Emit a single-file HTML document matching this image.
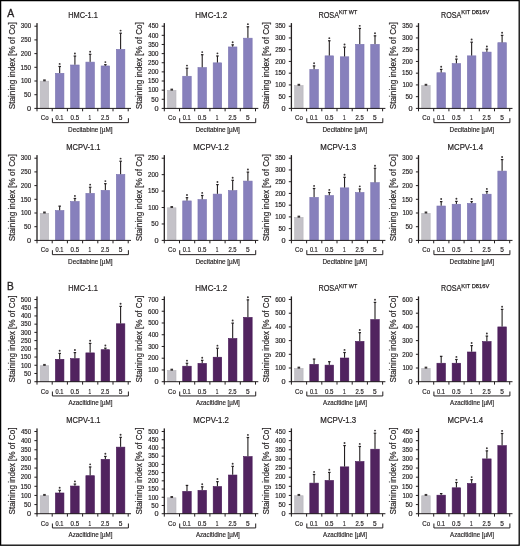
<!DOCTYPE html>
<html><head><meta charset="utf-8"><style>
html,body{margin:0;padding:0;background:#fff;overflow:hidden;width:520px;height:546px;}
svg{display:block;will-change:transform;}
text{font-family:"Liberation Sans",sans-serif;fill:#231f20;stroke:#231f20;stroke-width:0.18px;}
.tk{font-size:6.5px;}
.yl{font-size:8.6px;}
.xl{font-size:6.6px;}
.tr{font-size:7.0px;}
.ti{font-size:8.6px;stroke-width:0.2px;}
.su{font-size:6.0px;stroke-width:0.25px;}
.pl{font-size:11.6px;stroke-width:0.35px;}
</style></head><body>
<svg width="520" height="546" viewBox="0 0 520 546">
<rect x="0" y="0" width="520" height="546" fill="#fff"/>
<rect x="40.2" y="81.16" width="8.5" height="27.24" fill="#c4c2c8" stroke="#b8b6bc" stroke-width="0.6"/>
<rect x="43.15" y="79.36" width="2.6" height="2" fill="#3a3637"/>
<rect x="55.43" y="73.35" width="8.5" height="35.05" fill="#8780bc" stroke="#7a72b0" stroke-width="0.6"/>
<rect x="59.13" y="66.48" width="1.1" height="6.58" fill="#231f20"/>
<rect x="58.43" y="65.88" width="2.5" height="1.2" fill="#231f20"/>
<circle cx="59.68" cy="63.88" r="0.95" fill="#3a3637"/>
<rect x="70.66" y="65" width="8.5" height="43.4" fill="#8780bc" stroke="#7a72b0" stroke-width="0.6"/>
<rect x="74.36" y="56.07" width="1.1" height="8.63" fill="#231f20"/>
<rect x="73.66" y="55.47" width="2.5" height="1.2" fill="#231f20"/>
<circle cx="74.91" cy="53.47" r="0.95" fill="#3a3637"/>
<rect x="85.89" y="62.12" width="8.5" height="46.28" fill="#8780bc" stroke="#7a72b0" stroke-width="0.6"/>
<rect x="89.59" y="54.29" width="1.1" height="7.53" fill="#231f20"/>
<rect x="88.89" y="53.69" width="2.5" height="1.2" fill="#231f20"/>
<circle cx="90.14" cy="51.69" r="0.95" fill="#3a3637"/>
<rect x="101.12" y="65.96" width="8.5" height="42.44" fill="#8780bc" stroke="#7a72b0" stroke-width="0.6"/>
<rect x="104.82" y="64.7" width="1.1" height="0.96" fill="#231f20"/>
<rect x="104.12" y="64.1" width="2.5" height="1.2" fill="#231f20"/>
<circle cx="105.37" cy="62.1" r="0.95" fill="#3a3637"/>
<rect x="116.35" y="49.38" width="8.5" height="59.02" fill="#8780bc" stroke="#7a72b0" stroke-width="0.6"/>
<rect x="120.05" y="33.19" width="1.1" height="15.89" fill="#231f20"/>
<rect x="119.35" y="32.59" width="2.5" height="1.2" fill="#231f20"/>
<circle cx="120.6" cy="30.59" r="0.95" fill="#3a3637"/>
<rect x="36.35" y="23.1" width="1.3" height="85.8" fill="#231f20"/>
<rect x="37" y="107.9" width="94" height="1" fill="#231f20"/>
<rect x="36.5" y="108.4" width="1" height="2.9" fill="#231f20"/>
<rect x="51.7" y="108.4" width="1" height="2.9" fill="#231f20"/>
<rect x="66.9" y="108.4" width="1" height="2.9" fill="#231f20"/>
<rect x="82.1" y="108.4" width="1" height="2.9" fill="#231f20"/>
<rect x="97.3" y="108.4" width="1" height="2.9" fill="#231f20"/>
<rect x="112.5" y="108.4" width="1" height="2.9" fill="#231f20"/>
<rect x="127.7" y="108.4" width="1" height="2.9" fill="#231f20"/>
<rect x="34.4" y="107.9" width="2.6" height="1" fill="#231f20"/>
<text x="27.11" y="110.67" class="tk" textLength="4.07" lengthAdjust="spacingAndGlyphs">0</text>
<rect x="34.4" y="94.2" width="2.6" height="1" fill="#231f20"/>
<text x="24.04" y="96.97" class="tk" textLength="7.11" lengthAdjust="spacingAndGlyphs">50</text>
<rect x="34.4" y="80.5" width="2.6" height="1" fill="#231f20"/>
<text x="20.94" y="83.27" class="tk" textLength="10.21" lengthAdjust="spacingAndGlyphs">100</text>
<rect x="34.4" y="66.8" width="2.6" height="1" fill="#231f20"/>
<text x="20.62" y="69.57" class="tk" textLength="10.53" lengthAdjust="spacingAndGlyphs">150</text>
<rect x="34.4" y="53.1" width="2.6" height="1" fill="#231f20"/>
<text x="20.79" y="55.87" class="tk" textLength="10.36" lengthAdjust="spacingAndGlyphs">200</text>
<rect x="34.4" y="39.4" width="2.6" height="1" fill="#231f20"/>
<text x="20.79" y="42.17" class="tk" textLength="10.36" lengthAdjust="spacingAndGlyphs">250</text>
<rect x="34.4" y="25.7" width="2.6" height="1" fill="#231f20"/>
<text x="20.87" y="28.47" class="tk" textLength="10.28" lengthAdjust="spacingAndGlyphs">300</text>
<text class="yl" transform="translate(14.8,109.18) rotate(-90)" textLength="87.05" lengthAdjust="spacingAndGlyphs">Staining index [% of Co]</text>
<text x="40.69" y="120.4" class="xl" textLength="7.87" lengthAdjust="spacingAndGlyphs">Co</text>
<text x="55.48" y="120.4" class="xl" textLength="7.9" lengthAdjust="spacingAndGlyphs">0.1</text>
<text x="70.56" y="120.4" class="xl" textLength="8.5" lengthAdjust="spacingAndGlyphs">0.5</text>
<text x="88.49" y="120.4" class="xl" textLength="2.65" lengthAdjust="spacingAndGlyphs">1</text>
<text x="101.11" y="120.4" class="xl" textLength="8.14" lengthAdjust="spacingAndGlyphs">2.5</text>
<text x="118.64" y="120.4" class="xl" textLength="3.64" lengthAdjust="spacingAndGlyphs">5</text>
<path d="M52.4 118.2V122.65H128.4V118.2" fill="none" stroke="#231f20" stroke-width="1"/>
<text x="68.08" y="131.6" class="tr" textLength="44.48" lengthAdjust="spacingAndGlyphs">Decitabine [µM]</text>
<text x="68.19" y="17.7" class="ti" textLength="29.68" lengthAdjust="spacingAndGlyphs">HMC-1.1</text>
<rect x="167.5" y="90.43" width="8.5" height="17.97" fill="#c4c2c8" stroke="#b8b6bc" stroke-width="0.6"/>
<rect x="170.45" y="88.63" width="2.6" height="2" fill="#3a3637"/>
<rect x="182.73" y="76.26" width="8.5" height="32.14" fill="#8780bc" stroke="#7a72b0" stroke-width="0.6"/>
<rect x="186.43" y="68.21" width="1.1" height="7.75" fill="#231f20"/>
<rect x="185.73" y="67.61" width="2.5" height="1.2" fill="#231f20"/>
<circle cx="186.98" cy="65.61" r="0.95" fill="#3a3637"/>
<rect x="197.96" y="67.6" width="8.5" height="40.8" fill="#8780bc" stroke="#7a72b0" stroke-width="0.6"/>
<rect x="201.66" y="54.7" width="1.1" height="12.6" fill="#231f20"/>
<rect x="200.96" y="54.1" width="2.5" height="1.2" fill="#231f20"/>
<circle cx="202.21" cy="52.1" r="0.95" fill="#3a3637"/>
<rect x="213.19" y="62.85" width="8.5" height="45.55" fill="#8780bc" stroke="#7a72b0" stroke-width="0.6"/>
<rect x="216.89" y="55.97" width="1.1" height="6.58" fill="#231f20"/>
<rect x="216.19" y="55.37" width="2.5" height="1.2" fill="#231f20"/>
<circle cx="217.44" cy="53.37" r="0.95" fill="#3a3637"/>
<rect x="228.42" y="46.96" width="8.5" height="61.44" fill="#8780bc" stroke="#7a72b0" stroke-width="0.6"/>
<rect x="232.12" y="44.83" width="1.1" height="1.83" fill="#231f20"/>
<rect x="231.42" y="44.23" width="2.5" height="1.2" fill="#231f20"/>
<circle cx="232.67" cy="42.23" r="0.95" fill="#3a3637"/>
<rect x="243.65" y="38.19" width="8.5" height="70.21" fill="#8780bc" stroke="#7a72b0" stroke-width="0.6"/>
<rect x="247.35" y="26.75" width="1.1" height="11.14" fill="#231f20"/>
<rect x="246.65" y="26.15" width="2.5" height="1.2" fill="#231f20"/>
<circle cx="247.9" cy="24.15" r="0.95" fill="#3a3637"/>
<rect x="163.65" y="23.1" width="1.3" height="85.8" fill="#231f20"/>
<rect x="164.3" y="107.9" width="94" height="1" fill="#231f20"/>
<rect x="163.8" y="108.4" width="1" height="2.9" fill="#231f20"/>
<rect x="179" y="108.4" width="1" height="2.9" fill="#231f20"/>
<rect x="194.2" y="108.4" width="1" height="2.9" fill="#231f20"/>
<rect x="209.4" y="108.4" width="1" height="2.9" fill="#231f20"/>
<rect x="224.6" y="108.4" width="1" height="2.9" fill="#231f20"/>
<rect x="239.8" y="108.4" width="1" height="2.9" fill="#231f20"/>
<rect x="255" y="108.4" width="1" height="2.9" fill="#231f20"/>
<rect x="161.7" y="107.9" width="2.6" height="1" fill="#231f20"/>
<text x="154.41" y="110.67" class="tk" textLength="4.07" lengthAdjust="spacingAndGlyphs">0</text>
<rect x="161.7" y="98.77" width="2.6" height="1" fill="#231f20"/>
<text x="151.34" y="101.54" class="tk" textLength="7.11" lengthAdjust="spacingAndGlyphs">50</text>
<rect x="161.7" y="89.63" width="2.6" height="1" fill="#231f20"/>
<text x="148.24" y="92.4" class="tk" textLength="10.21" lengthAdjust="spacingAndGlyphs">100</text>
<rect x="161.7" y="80.5" width="2.6" height="1" fill="#231f20"/>
<text x="147.92" y="83.27" class="tk" textLength="10.53" lengthAdjust="spacingAndGlyphs">150</text>
<rect x="161.7" y="71.37" width="2.6" height="1" fill="#231f20"/>
<text x="148.09" y="74.14" class="tk" textLength="10.36" lengthAdjust="spacingAndGlyphs">200</text>
<rect x="161.7" y="62.23" width="2.6" height="1" fill="#231f20"/>
<text x="148.09" y="65" class="tk" textLength="10.36" lengthAdjust="spacingAndGlyphs">250</text>
<rect x="161.7" y="53.1" width="2.6" height="1" fill="#231f20"/>
<text x="148.17" y="55.87" class="tk" textLength="10.28" lengthAdjust="spacingAndGlyphs">300</text>
<rect x="161.7" y="43.97" width="2.6" height="1" fill="#231f20"/>
<text x="148.17" y="46.74" class="tk" textLength="10.28" lengthAdjust="spacingAndGlyphs">350</text>
<rect x="161.7" y="34.83" width="2.6" height="1" fill="#231f20"/>
<text x="148.26" y="37.6" class="tk" textLength="10.18" lengthAdjust="spacingAndGlyphs">400</text>
<rect x="161.7" y="25.7" width="2.6" height="1" fill="#231f20"/>
<text x="148.26" y="28.47" class="tk" textLength="10.18" lengthAdjust="spacingAndGlyphs">450</text>
<text class="yl" transform="translate(142.1,109.18) rotate(-90)" textLength="87.05" lengthAdjust="spacingAndGlyphs">Staining index [% of Co]</text>
<text x="167.99" y="120.4" class="xl" textLength="7.87" lengthAdjust="spacingAndGlyphs">Co</text>
<text x="182.78" y="120.4" class="xl" textLength="7.9" lengthAdjust="spacingAndGlyphs">0.1</text>
<text x="197.86" y="120.4" class="xl" textLength="8.5" lengthAdjust="spacingAndGlyphs">0.5</text>
<text x="215.79" y="120.4" class="xl" textLength="2.65" lengthAdjust="spacingAndGlyphs">1</text>
<text x="228.41" y="120.4" class="xl" textLength="8.14" lengthAdjust="spacingAndGlyphs">2.5</text>
<text x="245.94" y="120.4" class="xl" textLength="3.64" lengthAdjust="spacingAndGlyphs">5</text>
<path d="M179.7 118.2V122.65H255.7V118.2" fill="none" stroke="#231f20" stroke-width="1"/>
<text x="195.38" y="131.6" class="tr" textLength="44.48" lengthAdjust="spacingAndGlyphs">Decitabine [µM]</text>
<text x="195.35" y="17.7" class="ti" textLength="31.75" lengthAdjust="spacingAndGlyphs">HMC-1.2</text>
<rect x="294.6" y="85.61" width="8.5" height="22.79" fill="#c4c2c8" stroke="#b8b6bc" stroke-width="0.6"/>
<rect x="297.55" y="83.81" width="2.6" height="2" fill="#3a3637"/>
<rect x="309.83" y="69.48" width="8.5" height="38.92" fill="#8780bc" stroke="#7a72b0" stroke-width="0.6"/>
<rect x="313.53" y="65.89" width="1.1" height="3.29" fill="#231f20"/>
<rect x="312.83" y="65.29" width="2.5" height="1.2" fill="#231f20"/>
<circle cx="314.08" cy="63.29" r="0.95" fill="#3a3637"/>
<rect x="325.06" y="55.86" width="8.5" height="52.54" fill="#8780bc" stroke="#7a72b0" stroke-width="0.6"/>
<rect x="328.76" y="40.76" width="1.1" height="14.8" fill="#231f20"/>
<rect x="328.06" y="40.16" width="2.5" height="1.2" fill="#231f20"/>
<circle cx="329.31" cy="38.16" r="0.95" fill="#3a3637"/>
<rect x="340.29" y="56.8" width="8.5" height="51.6" fill="#8780bc" stroke="#7a72b0" stroke-width="0.6"/>
<rect x="343.99" y="47.1" width="1.1" height="9.39" fill="#231f20"/>
<rect x="343.29" y="46.5" width="2.5" height="1.2" fill="#231f20"/>
<circle cx="344.54" cy="44.5" r="0.95" fill="#3a3637"/>
<rect x="355.52" y="44.35" width="8.5" height="64.05" fill="#8780bc" stroke="#7a72b0" stroke-width="0.6"/>
<rect x="359.22" y="28.43" width="1.1" height="15.62" fill="#231f20"/>
<rect x="358.52" y="27.83" width="2.5" height="1.2" fill="#231f20"/>
<circle cx="359.77" cy="25.83" r="0.95" fill="#3a3637"/>
<rect x="370.75" y="44.35" width="8.5" height="64.05" fill="#8780bc" stroke="#7a72b0" stroke-width="0.6"/>
<rect x="374.45" y="35.83" width="1.1" height="8.22" fill="#231f20"/>
<rect x="373.75" y="35.23" width="2.5" height="1.2" fill="#231f20"/>
<circle cx="375" cy="33.23" r="0.95" fill="#3a3637"/>
<rect x="290.75" y="23.1" width="1.3" height="85.8" fill="#231f20"/>
<rect x="291.4" y="107.9" width="94" height="1" fill="#231f20"/>
<rect x="290.9" y="108.4" width="1" height="2.9" fill="#231f20"/>
<rect x="306.1" y="108.4" width="1" height="2.9" fill="#231f20"/>
<rect x="321.3" y="108.4" width="1" height="2.9" fill="#231f20"/>
<rect x="336.5" y="108.4" width="1" height="2.9" fill="#231f20"/>
<rect x="351.7" y="108.4" width="1" height="2.9" fill="#231f20"/>
<rect x="366.9" y="108.4" width="1" height="2.9" fill="#231f20"/>
<rect x="382.1" y="108.4" width="1" height="2.9" fill="#231f20"/>
<rect x="288.8" y="107.9" width="2.6" height="1" fill="#231f20"/>
<text x="281.51" y="110.67" class="tk" textLength="4.07" lengthAdjust="spacingAndGlyphs">0</text>
<rect x="288.8" y="96.16" width="2.6" height="1" fill="#231f20"/>
<text x="278.44" y="98.93" class="tk" textLength="7.11" lengthAdjust="spacingAndGlyphs">50</text>
<rect x="288.8" y="84.41" width="2.6" height="1" fill="#231f20"/>
<text x="275.34" y="87.18" class="tk" textLength="10.21" lengthAdjust="spacingAndGlyphs">100</text>
<rect x="288.8" y="72.67" width="2.6" height="1" fill="#231f20"/>
<text x="275.02" y="75.44" class="tk" textLength="10.53" lengthAdjust="spacingAndGlyphs">150</text>
<rect x="288.8" y="60.93" width="2.6" height="1" fill="#231f20"/>
<text x="275.19" y="63.7" class="tk" textLength="10.36" lengthAdjust="spacingAndGlyphs">200</text>
<rect x="288.8" y="49.19" width="2.6" height="1" fill="#231f20"/>
<text x="275.19" y="51.95" class="tk" textLength="10.36" lengthAdjust="spacingAndGlyphs">250</text>
<rect x="288.8" y="37.44" width="2.6" height="1" fill="#231f20"/>
<text x="275.27" y="40.21" class="tk" textLength="10.28" lengthAdjust="spacingAndGlyphs">300</text>
<rect x="288.8" y="25.7" width="2.6" height="1" fill="#231f20"/>
<text x="275.27" y="28.47" class="tk" textLength="10.28" lengthAdjust="spacingAndGlyphs">350</text>
<text class="yl" transform="translate(269.2,109.18) rotate(-90)" textLength="87.05" lengthAdjust="spacingAndGlyphs">Staining index [% of Co]</text>
<text x="295.09" y="120.4" class="xl" textLength="7.87" lengthAdjust="spacingAndGlyphs">Co</text>
<text x="309.88" y="120.4" class="xl" textLength="7.9" lengthAdjust="spacingAndGlyphs">0.1</text>
<text x="324.96" y="120.4" class="xl" textLength="8.5" lengthAdjust="spacingAndGlyphs">0.5</text>
<text x="342.89" y="120.4" class="xl" textLength="2.65" lengthAdjust="spacingAndGlyphs">1</text>
<text x="355.51" y="120.4" class="xl" textLength="8.14" lengthAdjust="spacingAndGlyphs">2.5</text>
<text x="373.04" y="120.4" class="xl" textLength="3.64" lengthAdjust="spacingAndGlyphs">5</text>
<path d="M306.8 118.2V122.65H382.8V118.2" fill="none" stroke="#231f20" stroke-width="1"/>
<text x="322.48" y="131.6" class="tr" textLength="44.48" lengthAdjust="spacingAndGlyphs">Decitabine [µM]</text>
<text x="318.4" y="17.7" class="ti" textLength="20.71" lengthAdjust="spacingAndGlyphs">ROSA</text>
<text x="338.96" y="14.2" class="su" textLength="18.27" lengthAdjust="spacingAndGlyphs">KIT WT</text>
<rect x="421.7" y="85.61" width="8.5" height="22.79" fill="#c4c2c8" stroke="#b8b6bc" stroke-width="0.6"/>
<rect x="424.65" y="83.81" width="2.6" height="2" fill="#3a3637"/>
<rect x="436.93" y="72.77" width="8.5" height="35.63" fill="#8780bc" stroke="#7a72b0" stroke-width="0.6"/>
<rect x="440.63" y="69.41" width="1.1" height="3.05" fill="#231f20"/>
<rect x="439.93" y="68.81" width="2.5" height="1.2" fill="#231f20"/>
<circle cx="441.18" cy="66.81" r="0.95" fill="#3a3637"/>
<rect x="452.16" y="63.61" width="8.5" height="44.79" fill="#8780bc" stroke="#7a72b0" stroke-width="0.6"/>
<rect x="455.86" y="59.08" width="1.1" height="4.23" fill="#231f20"/>
<rect x="455.16" y="58.48" width="2.5" height="1.2" fill="#231f20"/>
<circle cx="456.41" cy="56.48" r="0.95" fill="#3a3637"/>
<rect x="467.39" y="55.86" width="8.5" height="52.54" fill="#8780bc" stroke="#7a72b0" stroke-width="0.6"/>
<rect x="471.09" y="42.17" width="1.1" height="13.39" fill="#231f20"/>
<rect x="470.39" y="41.57" width="2.5" height="1.2" fill="#231f20"/>
<circle cx="471.64" cy="39.57" r="0.95" fill="#3a3637"/>
<rect x="482.62" y="52.1" width="8.5" height="56.3" fill="#8780bc" stroke="#7a72b0" stroke-width="0.6"/>
<rect x="486.32" y="49.1" width="1.1" height="2.7" fill="#231f20"/>
<rect x="485.62" y="48.5" width="2.5" height="1.2" fill="#231f20"/>
<circle cx="486.87" cy="46.5" r="0.95" fill="#3a3637"/>
<rect x="497.85" y="42.71" width="8.5" height="65.69" fill="#8780bc" stroke="#7a72b0" stroke-width="0.6"/>
<rect x="501.55" y="35.36" width="1.1" height="7.05" fill="#231f20"/>
<rect x="500.85" y="34.76" width="2.5" height="1.2" fill="#231f20"/>
<circle cx="502.1" cy="32.76" r="0.95" fill="#3a3637"/>
<rect x="417.85" y="23.1" width="1.3" height="85.8" fill="#231f20"/>
<rect x="418.5" y="107.9" width="94" height="1" fill="#231f20"/>
<rect x="418" y="108.4" width="1" height="2.9" fill="#231f20"/>
<rect x="433.2" y="108.4" width="1" height="2.9" fill="#231f20"/>
<rect x="448.4" y="108.4" width="1" height="2.9" fill="#231f20"/>
<rect x="463.6" y="108.4" width="1" height="2.9" fill="#231f20"/>
<rect x="478.8" y="108.4" width="1" height="2.9" fill="#231f20"/>
<rect x="494" y="108.4" width="1" height="2.9" fill="#231f20"/>
<rect x="509.2" y="108.4" width="1" height="2.9" fill="#231f20"/>
<rect x="415.9" y="107.9" width="2.6" height="1" fill="#231f20"/>
<text x="408.61" y="110.67" class="tk" textLength="4.07" lengthAdjust="spacingAndGlyphs">0</text>
<rect x="415.9" y="96.16" width="2.6" height="1" fill="#231f20"/>
<text x="405.54" y="98.93" class="tk" textLength="7.11" lengthAdjust="spacingAndGlyphs">50</text>
<rect x="415.9" y="84.41" width="2.6" height="1" fill="#231f20"/>
<text x="402.44" y="87.18" class="tk" textLength="10.21" lengthAdjust="spacingAndGlyphs">100</text>
<rect x="415.9" y="72.67" width="2.6" height="1" fill="#231f20"/>
<text x="402.12" y="75.44" class="tk" textLength="10.53" lengthAdjust="spacingAndGlyphs">150</text>
<rect x="415.9" y="60.93" width="2.6" height="1" fill="#231f20"/>
<text x="402.29" y="63.7" class="tk" textLength="10.36" lengthAdjust="spacingAndGlyphs">200</text>
<rect x="415.9" y="49.19" width="2.6" height="1" fill="#231f20"/>
<text x="402.29" y="51.95" class="tk" textLength="10.36" lengthAdjust="spacingAndGlyphs">250</text>
<rect x="415.9" y="37.44" width="2.6" height="1" fill="#231f20"/>
<text x="402.37" y="40.21" class="tk" textLength="10.28" lengthAdjust="spacingAndGlyphs">300</text>
<rect x="415.9" y="25.7" width="2.6" height="1" fill="#231f20"/>
<text x="402.37" y="28.47" class="tk" textLength="10.28" lengthAdjust="spacingAndGlyphs">350</text>
<text class="yl" transform="translate(396.3,109.18) rotate(-90)" textLength="87.05" lengthAdjust="spacingAndGlyphs">Staining index [% of Co]</text>
<text x="422.19" y="120.4" class="xl" textLength="7.87" lengthAdjust="spacingAndGlyphs">Co</text>
<text x="436.98" y="120.4" class="xl" textLength="7.9" lengthAdjust="spacingAndGlyphs">0.1</text>
<text x="452.06" y="120.4" class="xl" textLength="8.5" lengthAdjust="spacingAndGlyphs">0.5</text>
<text x="469.99" y="120.4" class="xl" textLength="2.65" lengthAdjust="spacingAndGlyphs">1</text>
<text x="482.61" y="120.4" class="xl" textLength="8.14" lengthAdjust="spacingAndGlyphs">2.5</text>
<text x="500.14" y="120.4" class="xl" textLength="3.64" lengthAdjust="spacingAndGlyphs">5</text>
<path d="M433.9 118.2V122.65H509.9V118.2" fill="none" stroke="#231f20" stroke-width="1"/>
<text x="449.58" y="131.6" class="tr" textLength="44.48" lengthAdjust="spacingAndGlyphs">Decitabine [µM]</text>
<text x="441.12" y="17.7" class="ti" textLength="20.2" lengthAdjust="spacingAndGlyphs">ROSA</text>
<text x="461.33" y="14.2" class="su" textLength="27.9" lengthAdjust="spacingAndGlyphs">KIT D816V</text>
<rect x="40.2" y="213.3" width="8.5" height="27.1" fill="#c4c2c8" stroke="#b8b6bc" stroke-width="0.6"/>
<rect x="43.15" y="211.5" width="2.6" height="2" fill="#3a3637"/>
<rect x="55.43" y="210.56" width="8.5" height="29.84" fill="#8780bc" stroke="#7a72b0" stroke-width="0.6"/>
<rect x="59.13" y="206.15" width="1.1" height="4.11" fill="#231f20"/>
<rect x="58.43" y="205.55" width="2.5" height="1.2" fill="#231f20"/>
<rect x="70.66" y="201.52" width="8.5" height="38.88" fill="#8780bc" stroke="#7a72b0" stroke-width="0.6"/>
<rect x="74.36" y="198.48" width="1.1" height="2.74" fill="#231f20"/>
<rect x="73.66" y="197.88" width="2.5" height="1.2" fill="#231f20"/>
<circle cx="74.91" cy="195.88" r="0.95" fill="#3a3637"/>
<rect x="85.89" y="193.41" width="8.5" height="46.99" fill="#8780bc" stroke="#7a72b0" stroke-width="0.6"/>
<rect x="89.59" y="187.24" width="1.1" height="5.86" fill="#231f20"/>
<rect x="88.89" y="186.64" width="2.5" height="1.2" fill="#231f20"/>
<circle cx="90.14" cy="184.64" r="0.95" fill="#3a3637"/>
<rect x="101.12" y="190.39" width="8.5" height="50.01" fill="#8780bc" stroke="#7a72b0" stroke-width="0.6"/>
<rect x="104.82" y="183.68" width="1.1" height="6.41" fill="#231f20"/>
<rect x="104.12" y="183.08" width="2.5" height="1.2" fill="#231f20"/>
<circle cx="105.37" cy="181.08" r="0.95" fill="#3a3637"/>
<rect x="116.35" y="174.5" width="8.5" height="65.9" fill="#8780bc" stroke="#7a72b0" stroke-width="0.6"/>
<rect x="120.05" y="161.21" width="1.1" height="12.99" fill="#231f20"/>
<rect x="119.35" y="160.61" width="2.5" height="1.2" fill="#231f20"/>
<circle cx="120.6" cy="158.61" r="0.95" fill="#3a3637"/>
<rect x="36.35" y="155.1" width="1.3" height="85.8" fill="#231f20"/>
<rect x="37" y="239.9" width="94" height="1" fill="#231f20"/>
<rect x="36.5" y="240.4" width="1" height="2.9" fill="#231f20"/>
<rect x="51.7" y="240.4" width="1" height="2.9" fill="#231f20"/>
<rect x="66.9" y="240.4" width="1" height="2.9" fill="#231f20"/>
<rect x="82.1" y="240.4" width="1" height="2.9" fill="#231f20"/>
<rect x="97.3" y="240.4" width="1" height="2.9" fill="#231f20"/>
<rect x="112.5" y="240.4" width="1" height="2.9" fill="#231f20"/>
<rect x="127.7" y="240.4" width="1" height="2.9" fill="#231f20"/>
<rect x="34.4" y="239.9" width="2.6" height="1" fill="#231f20"/>
<text x="27.11" y="242.67" class="tk" textLength="4.07" lengthAdjust="spacingAndGlyphs">0</text>
<rect x="34.4" y="226.2" width="2.6" height="1" fill="#231f20"/>
<text x="24.04" y="228.97" class="tk" textLength="7.11" lengthAdjust="spacingAndGlyphs">50</text>
<rect x="34.4" y="212.5" width="2.6" height="1" fill="#231f20"/>
<text x="20.94" y="215.27" class="tk" textLength="10.21" lengthAdjust="spacingAndGlyphs">100</text>
<rect x="34.4" y="198.8" width="2.6" height="1" fill="#231f20"/>
<text x="20.62" y="201.57" class="tk" textLength="10.53" lengthAdjust="spacingAndGlyphs">150</text>
<rect x="34.4" y="185.1" width="2.6" height="1" fill="#231f20"/>
<text x="20.79" y="187.87" class="tk" textLength="10.36" lengthAdjust="spacingAndGlyphs">200</text>
<rect x="34.4" y="171.4" width="2.6" height="1" fill="#231f20"/>
<text x="20.79" y="174.17" class="tk" textLength="10.36" lengthAdjust="spacingAndGlyphs">250</text>
<rect x="34.4" y="157.7" width="2.6" height="1" fill="#231f20"/>
<text x="20.87" y="160.47" class="tk" textLength="10.28" lengthAdjust="spacingAndGlyphs">300</text>
<text class="yl" transform="translate(14.8,241.18) rotate(-90)" textLength="87.05" lengthAdjust="spacingAndGlyphs">Staining index [% of Co]</text>
<text x="40.69" y="252.4" class="xl" textLength="7.87" lengthAdjust="spacingAndGlyphs">Co</text>
<text x="55.48" y="252.4" class="xl" textLength="7.9" lengthAdjust="spacingAndGlyphs">0.1</text>
<text x="70.56" y="252.4" class="xl" textLength="8.5" lengthAdjust="spacingAndGlyphs">0.5</text>
<text x="88.49" y="252.4" class="xl" textLength="2.65" lengthAdjust="spacingAndGlyphs">1</text>
<text x="101.11" y="252.4" class="xl" textLength="8.14" lengthAdjust="spacingAndGlyphs">2.5</text>
<text x="118.64" y="252.4" class="xl" textLength="3.64" lengthAdjust="spacingAndGlyphs">5</text>
<path d="M52.4 250.2V254.65H128.4V250.2" fill="none" stroke="#231f20" stroke-width="1"/>
<text x="68.08" y="263.6" class="tr" textLength="44.48" lengthAdjust="spacingAndGlyphs">Decitabine [µM]</text>
<text x="66.28" y="150" class="ti" textLength="34.29" lengthAdjust="spacingAndGlyphs">MCPV-1.1</text>
<rect x="167.5" y="207.82" width="8.5" height="32.58" fill="#c4c2c8" stroke="#b8b6bc" stroke-width="0.6"/>
<rect x="170.45" y="206.02" width="2.6" height="2" fill="#3a3637"/>
<rect x="182.73" y="200.92" width="8.5" height="39.48" fill="#8780bc" stroke="#7a72b0" stroke-width="0.6"/>
<rect x="186.43" y="197.66" width="1.1" height="2.96" fill="#231f20"/>
<rect x="185.73" y="197.06" width="2.5" height="1.2" fill="#231f20"/>
<circle cx="186.98" cy="195.06" r="0.95" fill="#3a3637"/>
<rect x="197.96" y="199.6" width="8.5" height="40.8" fill="#8780bc" stroke="#7a72b0" stroke-width="0.6"/>
<rect x="201.66" y="195.49" width="1.1" height="3.81" fill="#231f20"/>
<rect x="200.96" y="194.89" width="2.5" height="1.2" fill="#231f20"/>
<circle cx="202.21" cy="192.89" r="0.95" fill="#3a3637"/>
<rect x="213.19" y="194.11" width="8.5" height="46.29" fill="#8780bc" stroke="#7a72b0" stroke-width="0.6"/>
<rect x="216.89" y="184.6" width="1.1" height="9.21" fill="#231f20"/>
<rect x="216.19" y="184" width="2.5" height="1.2" fill="#231f20"/>
<circle cx="217.44" cy="182" r="0.95" fill="#3a3637"/>
<rect x="228.42" y="190.59" width="8.5" height="49.81" fill="#8780bc" stroke="#7a72b0" stroke-width="0.6"/>
<rect x="232.12" y="180.3" width="1.1" height="10" fill="#231f20"/>
<rect x="231.42" y="179.7" width="2.5" height="1.2" fill="#231f20"/>
<circle cx="232.67" cy="177.7" r="0.95" fill="#3a3637"/>
<rect x="243.65" y="181.09" width="8.5" height="59.31" fill="#8780bc" stroke="#7a72b0" stroke-width="0.6"/>
<rect x="247.35" y="172.11" width="1.1" height="8.68" fill="#231f20"/>
<rect x="246.65" y="171.51" width="2.5" height="1.2" fill="#231f20"/>
<circle cx="247.9" cy="169.51" r="0.95" fill="#3a3637"/>
<rect x="163.65" y="155.1" width="1.3" height="85.8" fill="#231f20"/>
<rect x="164.3" y="239.9" width="94" height="1" fill="#231f20"/>
<rect x="163.8" y="240.4" width="1" height="2.9" fill="#231f20"/>
<rect x="179" y="240.4" width="1" height="2.9" fill="#231f20"/>
<rect x="194.2" y="240.4" width="1" height="2.9" fill="#231f20"/>
<rect x="209.4" y="240.4" width="1" height="2.9" fill="#231f20"/>
<rect x="224.6" y="240.4" width="1" height="2.9" fill="#231f20"/>
<rect x="239.8" y="240.4" width="1" height="2.9" fill="#231f20"/>
<rect x="255" y="240.4" width="1" height="2.9" fill="#231f20"/>
<rect x="161.7" y="239.9" width="2.6" height="1" fill="#231f20"/>
<text x="154.41" y="242.67" class="tk" textLength="4.07" lengthAdjust="spacingAndGlyphs">0</text>
<rect x="161.7" y="223.46" width="2.6" height="1" fill="#231f20"/>
<text x="151.34" y="226.23" class="tk" textLength="7.11" lengthAdjust="spacingAndGlyphs">50</text>
<rect x="161.7" y="207.02" width="2.6" height="1" fill="#231f20"/>
<text x="148.24" y="209.79" class="tk" textLength="10.21" lengthAdjust="spacingAndGlyphs">100</text>
<rect x="161.7" y="190.58" width="2.6" height="1" fill="#231f20"/>
<text x="147.92" y="193.35" class="tk" textLength="10.53" lengthAdjust="spacingAndGlyphs">150</text>
<rect x="161.7" y="174.14" width="2.6" height="1" fill="#231f20"/>
<text x="148.09" y="176.91" class="tk" textLength="10.36" lengthAdjust="spacingAndGlyphs">200</text>
<rect x="161.7" y="157.7" width="2.6" height="1" fill="#231f20"/>
<text x="148.09" y="160.47" class="tk" textLength="10.36" lengthAdjust="spacingAndGlyphs">250</text>
<text class="yl" transform="translate(142.1,241.18) rotate(-90)" textLength="87.05" lengthAdjust="spacingAndGlyphs">Staining index [% of Co]</text>
<text x="167.99" y="252.4" class="xl" textLength="7.87" lengthAdjust="spacingAndGlyphs">Co</text>
<text x="182.78" y="252.4" class="xl" textLength="7.9" lengthAdjust="spacingAndGlyphs">0.1</text>
<text x="197.86" y="252.4" class="xl" textLength="8.5" lengthAdjust="spacingAndGlyphs">0.5</text>
<text x="215.79" y="252.4" class="xl" textLength="2.65" lengthAdjust="spacingAndGlyphs">1</text>
<text x="228.41" y="252.4" class="xl" textLength="8.14" lengthAdjust="spacingAndGlyphs">2.5</text>
<text x="245.94" y="252.4" class="xl" textLength="3.64" lengthAdjust="spacingAndGlyphs">5</text>
<path d="M179.7 250.2V254.65H255.7V250.2" fill="none" stroke="#231f20" stroke-width="1"/>
<text x="195.38" y="263.6" class="tr" textLength="44.48" lengthAdjust="spacingAndGlyphs">Decitabine [µM]</text>
<text x="193.36" y="150" class="ti" textLength="35.53" lengthAdjust="spacingAndGlyphs">MCPV-1.2</text>
<rect x="294.6" y="217.45" width="8.5" height="22.95" fill="#c4c2c8" stroke="#b8b6bc" stroke-width="0.6"/>
<rect x="297.55" y="215.65" width="2.6" height="2" fill="#3a3637"/>
<rect x="309.83" y="197.42" width="8.5" height="42.98" fill="#8780bc" stroke="#7a72b0" stroke-width="0.6"/>
<rect x="313.53" y="188.5" width="1.1" height="8.62" fill="#231f20"/>
<rect x="312.83" y="187.9" width="2.5" height="1.2" fill="#231f20"/>
<circle cx="314.08" cy="185.9" r="0.95" fill="#3a3637"/>
<rect x="325.06" y="195.61" width="8.5" height="44.79" fill="#8780bc" stroke="#7a72b0" stroke-width="0.6"/>
<rect x="328.76" y="192.49" width="1.1" height="2.82" fill="#231f20"/>
<rect x="328.06" y="191.89" width="2.5" height="1.2" fill="#231f20"/>
<circle cx="329.31" cy="189.89" r="0.95" fill="#3a3637"/>
<rect x="340.29" y="187.86" width="8.5" height="52.54" fill="#8780bc" stroke="#7a72b0" stroke-width="0.6"/>
<rect x="343.99" y="177.32" width="1.1" height="10.24" fill="#231f20"/>
<rect x="343.29" y="176.72" width="2.5" height="1.2" fill="#231f20"/>
<circle cx="344.54" cy="174.72" r="0.95" fill="#3a3637"/>
<rect x="355.52" y="192.55" width="8.5" height="47.85" fill="#8780bc" stroke="#7a72b0" stroke-width="0.6"/>
<rect x="359.22" y="188.97" width="1.1" height="3.29" fill="#231f20"/>
<rect x="358.52" y="188.37" width="2.5" height="1.2" fill="#231f20"/>
<circle cx="359.77" cy="186.37" r="0.95" fill="#3a3637"/>
<rect x="370.75" y="182.69" width="8.5" height="57.71" fill="#8780bc" stroke="#7a72b0" stroke-width="0.6"/>
<rect x="374.45" y="168.3" width="1.1" height="14.09" fill="#231f20"/>
<rect x="373.75" y="167.7" width="2.5" height="1.2" fill="#231f20"/>
<circle cx="375" cy="165.7" r="0.95" fill="#3a3637"/>
<rect x="290.75" y="155.1" width="1.3" height="85.8" fill="#231f20"/>
<rect x="291.4" y="239.9" width="94" height="1" fill="#231f20"/>
<rect x="290.9" y="240.4" width="1" height="2.9" fill="#231f20"/>
<rect x="306.1" y="240.4" width="1" height="2.9" fill="#231f20"/>
<rect x="321.3" y="240.4" width="1" height="2.9" fill="#231f20"/>
<rect x="336.5" y="240.4" width="1" height="2.9" fill="#231f20"/>
<rect x="351.7" y="240.4" width="1" height="2.9" fill="#231f20"/>
<rect x="366.9" y="240.4" width="1" height="2.9" fill="#231f20"/>
<rect x="382.1" y="240.4" width="1" height="2.9" fill="#231f20"/>
<rect x="288.8" y="239.9" width="2.6" height="1" fill="#231f20"/>
<text x="281.51" y="242.67" class="tk" textLength="4.07" lengthAdjust="spacingAndGlyphs">0</text>
<rect x="288.8" y="228.16" width="2.6" height="1" fill="#231f20"/>
<text x="278.44" y="230.93" class="tk" textLength="7.11" lengthAdjust="spacingAndGlyphs">50</text>
<rect x="288.8" y="216.41" width="2.6" height="1" fill="#231f20"/>
<text x="275.34" y="219.18" class="tk" textLength="10.21" lengthAdjust="spacingAndGlyphs">100</text>
<rect x="288.8" y="204.67" width="2.6" height="1" fill="#231f20"/>
<text x="275.02" y="207.44" class="tk" textLength="10.53" lengthAdjust="spacingAndGlyphs">150</text>
<rect x="288.8" y="192.93" width="2.6" height="1" fill="#231f20"/>
<text x="275.19" y="195.7" class="tk" textLength="10.36" lengthAdjust="spacingAndGlyphs">200</text>
<rect x="288.8" y="181.19" width="2.6" height="1" fill="#231f20"/>
<text x="275.19" y="183.95" class="tk" textLength="10.36" lengthAdjust="spacingAndGlyphs">250</text>
<rect x="288.8" y="169.44" width="2.6" height="1" fill="#231f20"/>
<text x="275.27" y="172.21" class="tk" textLength="10.28" lengthAdjust="spacingAndGlyphs">300</text>
<rect x="288.8" y="157.7" width="2.6" height="1" fill="#231f20"/>
<text x="275.27" y="160.47" class="tk" textLength="10.28" lengthAdjust="spacingAndGlyphs">350</text>
<text class="yl" transform="translate(269.2,241.18) rotate(-90)" textLength="87.05" lengthAdjust="spacingAndGlyphs">Staining index [% of Co]</text>
<text x="295.09" y="252.4" class="xl" textLength="7.87" lengthAdjust="spacingAndGlyphs">Co</text>
<text x="309.88" y="252.4" class="xl" textLength="7.9" lengthAdjust="spacingAndGlyphs">0.1</text>
<text x="324.96" y="252.4" class="xl" textLength="8.5" lengthAdjust="spacingAndGlyphs">0.5</text>
<text x="342.89" y="252.4" class="xl" textLength="2.65" lengthAdjust="spacingAndGlyphs">1</text>
<text x="355.51" y="252.4" class="xl" textLength="8.14" lengthAdjust="spacingAndGlyphs">2.5</text>
<text x="373.04" y="252.4" class="xl" textLength="3.64" lengthAdjust="spacingAndGlyphs">5</text>
<path d="M306.8 250.2V254.65H382.8V250.2" fill="none" stroke="#231f20" stroke-width="1"/>
<text x="322.48" y="263.6" class="tr" textLength="44.48" lengthAdjust="spacingAndGlyphs">Decitabine [µM]</text>
<text x="320.35" y="150" class="ti" textLength="35.89" lengthAdjust="spacingAndGlyphs">MCPV-1.3</text>
<rect x="421.7" y="213.3" width="8.5" height="27.1" fill="#c4c2c8" stroke="#b8b6bc" stroke-width="0.6"/>
<rect x="424.65" y="211.5" width="2.6" height="2" fill="#3a3637"/>
<rect x="436.93" y="206.01" width="8.5" height="34.39" fill="#8780bc" stroke="#7a72b0" stroke-width="0.6"/>
<rect x="440.63" y="201.63" width="1.1" height="4.08" fill="#231f20"/>
<rect x="439.93" y="201.03" width="2.5" height="1.2" fill="#231f20"/>
<circle cx="441.18" cy="199.03" r="0.95" fill="#3a3637"/>
<rect x="452.16" y="204.26" width="8.5" height="36.14" fill="#8780bc" stroke="#7a72b0" stroke-width="0.6"/>
<rect x="455.86" y="201.41" width="1.1" height="2.55" fill="#231f20"/>
<rect x="455.16" y="200.81" width="2.5" height="1.2" fill="#231f20"/>
<circle cx="456.41" cy="198.81" r="0.95" fill="#3a3637"/>
<rect x="467.39" y="203.44" width="8.5" height="36.96" fill="#8780bc" stroke="#7a72b0" stroke-width="0.6"/>
<rect x="471.09" y="201.63" width="1.1" height="1.51" fill="#231f20"/>
<rect x="470.39" y="201.03" width="2.5" height="1.2" fill="#231f20"/>
<circle cx="471.64" cy="199.03" r="0.95" fill="#3a3637"/>
<rect x="482.62" y="194.2" width="8.5" height="46.2" fill="#8780bc" stroke="#7a72b0" stroke-width="0.6"/>
<rect x="486.32" y="191.49" width="1.1" height="2.41" fill="#231f20"/>
<rect x="485.62" y="190.89" width="2.5" height="1.2" fill="#231f20"/>
<circle cx="486.87" cy="188.89" r="0.95" fill="#3a3637"/>
<rect x="497.85" y="171.1" width="8.5" height="69.3" fill="#8780bc" stroke="#7a72b0" stroke-width="0.6"/>
<rect x="501.55" y="159.57" width="1.1" height="11.23" fill="#231f20"/>
<rect x="500.85" y="158.97" width="2.5" height="1.2" fill="#231f20"/>
<circle cx="502.1" cy="156.97" r="0.95" fill="#3a3637"/>
<rect x="417.85" y="155.1" width="1.3" height="85.8" fill="#231f20"/>
<rect x="418.5" y="239.9" width="94" height="1" fill="#231f20"/>
<rect x="418" y="240.4" width="1" height="2.9" fill="#231f20"/>
<rect x="433.2" y="240.4" width="1" height="2.9" fill="#231f20"/>
<rect x="448.4" y="240.4" width="1" height="2.9" fill="#231f20"/>
<rect x="463.6" y="240.4" width="1" height="2.9" fill="#231f20"/>
<rect x="478.8" y="240.4" width="1" height="2.9" fill="#231f20"/>
<rect x="494" y="240.4" width="1" height="2.9" fill="#231f20"/>
<rect x="509.2" y="240.4" width="1" height="2.9" fill="#231f20"/>
<rect x="415.9" y="239.9" width="2.6" height="1" fill="#231f20"/>
<text x="408.61" y="242.67" class="tk" textLength="4.07" lengthAdjust="spacingAndGlyphs">0</text>
<rect x="415.9" y="226.2" width="2.6" height="1" fill="#231f20"/>
<text x="405.54" y="228.97" class="tk" textLength="7.11" lengthAdjust="spacingAndGlyphs">50</text>
<rect x="415.9" y="212.5" width="2.6" height="1" fill="#231f20"/>
<text x="402.44" y="215.27" class="tk" textLength="10.21" lengthAdjust="spacingAndGlyphs">100</text>
<rect x="415.9" y="198.8" width="2.6" height="1" fill="#231f20"/>
<text x="402.12" y="201.57" class="tk" textLength="10.53" lengthAdjust="spacingAndGlyphs">150</text>
<rect x="415.9" y="185.1" width="2.6" height="1" fill="#231f20"/>
<text x="402.29" y="187.87" class="tk" textLength="10.36" lengthAdjust="spacingAndGlyphs">200</text>
<rect x="415.9" y="171.4" width="2.6" height="1" fill="#231f20"/>
<text x="402.29" y="174.17" class="tk" textLength="10.36" lengthAdjust="spacingAndGlyphs">250</text>
<rect x="415.9" y="157.7" width="2.6" height="1" fill="#231f20"/>
<text x="402.37" y="160.47" class="tk" textLength="10.28" lengthAdjust="spacingAndGlyphs">300</text>
<text class="yl" transform="translate(396.3,241.18) rotate(-90)" textLength="87.05" lengthAdjust="spacingAndGlyphs">Staining index [% of Co]</text>
<text x="422.19" y="252.4" class="xl" textLength="7.87" lengthAdjust="spacingAndGlyphs">Co</text>
<text x="436.98" y="252.4" class="xl" textLength="7.9" lengthAdjust="spacingAndGlyphs">0.1</text>
<text x="452.06" y="252.4" class="xl" textLength="8.5" lengthAdjust="spacingAndGlyphs">0.5</text>
<text x="469.99" y="252.4" class="xl" textLength="2.65" lengthAdjust="spacingAndGlyphs">1</text>
<text x="482.61" y="252.4" class="xl" textLength="8.14" lengthAdjust="spacingAndGlyphs">2.5</text>
<text x="500.14" y="252.4" class="xl" textLength="3.64" lengthAdjust="spacingAndGlyphs">5</text>
<path d="M433.9 250.2V254.65H509.9V250.2" fill="none" stroke="#231f20" stroke-width="1"/>
<text x="449.58" y="263.6" class="tr" textLength="44.48" lengthAdjust="spacingAndGlyphs">Decitabine [µM]</text>
<text x="447.56" y="150" class="ti" textLength="35.47" lengthAdjust="spacingAndGlyphs">MCPV-1.4</text>
<rect x="40.2" y="365.72" width="8.5" height="15.98" fill="#c4c2c8" stroke="#b8b6bc" stroke-width="0.6"/>
<rect x="43.15" y="363.92" width="2.6" height="2" fill="#3a3637"/>
<rect x="55.43" y="359.31" width="8.5" height="22.39" fill="#51235f" stroke="#461856" stroke-width="0.6"/>
<rect x="59.13" y="353.42" width="1.1" height="5.59" fill="#231f20"/>
<rect x="58.43" y="352.82" width="2.5" height="1.2" fill="#231f20"/>
<circle cx="59.68" cy="350.82" r="0.95" fill="#3a3637"/>
<rect x="70.66" y="358.66" width="8.5" height="23.04" fill="#51235f" stroke="#461856" stroke-width="0.6"/>
<rect x="74.36" y="352.6" width="1.1" height="5.75" fill="#231f20"/>
<rect x="73.66" y="352" width="2.5" height="1.2" fill="#231f20"/>
<circle cx="74.91" cy="350" r="0.95" fill="#3a3637"/>
<rect x="85.89" y="352.9" width="8.5" height="28.8" fill="#51235f" stroke="#461856" stroke-width="0.6"/>
<rect x="89.59" y="343.39" width="1.1" height="9.21" fill="#231f20"/>
<rect x="88.89" y="342.79" width="2.5" height="1.2" fill="#231f20"/>
<circle cx="90.14" cy="340.79" r="0.95" fill="#3a3637"/>
<rect x="101.12" y="349.7" width="8.5" height="32" fill="#51235f" stroke="#461856" stroke-width="0.6"/>
<rect x="104.82" y="348.16" width="1.1" height="1.23" fill="#231f20"/>
<rect x="104.12" y="347.56" width="2.5" height="1.2" fill="#231f20"/>
<circle cx="105.37" cy="345.56" r="0.95" fill="#3a3637"/>
<rect x="116.35" y="323.8" width="8.5" height="57.9" fill="#51235f" stroke="#461856" stroke-width="0.6"/>
<rect x="120.05" y="306.4" width="1.1" height="17.1" fill="#231f20"/>
<rect x="119.35" y="305.8" width="2.5" height="1.2" fill="#231f20"/>
<circle cx="120.6" cy="303.8" r="0.95" fill="#3a3637"/>
<rect x="36.35" y="296.4" width="1.3" height="85.8" fill="#231f20"/>
<rect x="37" y="381.2" width="94" height="1" fill="#231f20"/>
<rect x="36.5" y="381.7" width="1" height="2.9" fill="#231f20"/>
<rect x="51.7" y="381.7" width="1" height="2.9" fill="#231f20"/>
<rect x="66.9" y="381.7" width="1" height="2.9" fill="#231f20"/>
<rect x="82.1" y="381.7" width="1" height="2.9" fill="#231f20"/>
<rect x="97.3" y="381.7" width="1" height="2.9" fill="#231f20"/>
<rect x="112.5" y="381.7" width="1" height="2.9" fill="#231f20"/>
<rect x="127.7" y="381.7" width="1" height="2.9" fill="#231f20"/>
<rect x="34.4" y="381.2" width="2.6" height="1" fill="#231f20"/>
<text x="27.11" y="383.97" class="tk" textLength="4.07" lengthAdjust="spacingAndGlyphs">0</text>
<rect x="34.4" y="372.98" width="2.6" height="1" fill="#231f20"/>
<text x="24.04" y="375.75" class="tk" textLength="7.11" lengthAdjust="spacingAndGlyphs">50</text>
<rect x="34.4" y="364.76" width="2.6" height="1" fill="#231f20"/>
<text x="20.94" y="367.53" class="tk" textLength="10.21" lengthAdjust="spacingAndGlyphs">100</text>
<rect x="34.4" y="356.54" width="2.6" height="1" fill="#231f20"/>
<text x="20.62" y="359.31" class="tk" textLength="10.53" lengthAdjust="spacingAndGlyphs">150</text>
<rect x="34.4" y="348.32" width="2.6" height="1" fill="#231f20"/>
<text x="20.79" y="351.09" class="tk" textLength="10.36" lengthAdjust="spacingAndGlyphs">200</text>
<rect x="34.4" y="340.1" width="2.6" height="1" fill="#231f20"/>
<text x="20.79" y="342.87" class="tk" textLength="10.36" lengthAdjust="spacingAndGlyphs">250</text>
<rect x="34.4" y="331.88" width="2.6" height="1" fill="#231f20"/>
<text x="20.87" y="334.65" class="tk" textLength="10.28" lengthAdjust="spacingAndGlyphs">300</text>
<rect x="34.4" y="323.66" width="2.6" height="1" fill="#231f20"/>
<text x="20.87" y="326.43" class="tk" textLength="10.28" lengthAdjust="spacingAndGlyphs">350</text>
<rect x="34.4" y="315.44" width="2.6" height="1" fill="#231f20"/>
<text x="20.96" y="318.21" class="tk" textLength="10.18" lengthAdjust="spacingAndGlyphs">400</text>
<rect x="34.4" y="307.22" width="2.6" height="1" fill="#231f20"/>
<text x="20.96" y="309.99" class="tk" textLength="10.18" lengthAdjust="spacingAndGlyphs">450</text>
<rect x="34.4" y="299" width="2.6" height="1" fill="#231f20"/>
<text x="20.85" y="301.77" class="tk" textLength="10.29" lengthAdjust="spacingAndGlyphs">500</text>
<text class="yl" transform="translate(14.8,382.48) rotate(-90)" textLength="87.05" lengthAdjust="spacingAndGlyphs">Staining index [% of Co]</text>
<text x="40.69" y="393.7" class="xl" textLength="7.87" lengthAdjust="spacingAndGlyphs">Co</text>
<text x="55.48" y="393.7" class="xl" textLength="7.9" lengthAdjust="spacingAndGlyphs">0.1</text>
<text x="70.56" y="393.7" class="xl" textLength="8.5" lengthAdjust="spacingAndGlyphs">0.5</text>
<text x="88.49" y="393.7" class="xl" textLength="2.65" lengthAdjust="spacingAndGlyphs">1</text>
<text x="101.11" y="393.7" class="xl" textLength="8.14" lengthAdjust="spacingAndGlyphs">2.5</text>
<text x="118.64" y="393.7" class="xl" textLength="3.64" lengthAdjust="spacingAndGlyphs">5</text>
<path d="M52.4 391.5V395.95H128.4V391.5" fill="none" stroke="#231f20" stroke-width="1"/>
<text x="68.59" y="404.9" class="tr" textLength="43.95" lengthAdjust="spacingAndGlyphs">Azacitidine [µM]</text>
<text x="68.19" y="291.1" class="ti" textLength="29.68" lengthAdjust="spacingAndGlyphs">HMC-1.1</text>
<rect x="167.5" y="370.49" width="8.5" height="11.21" fill="#c4c2c8" stroke="#b8b6bc" stroke-width="0.6"/>
<rect x="170.45" y="368.69" width="2.6" height="2" fill="#3a3637"/>
<rect x="182.73" y="366.21" width="8.5" height="15.49" fill="#51235f" stroke="#461856" stroke-width="0.6"/>
<rect x="186.43" y="363.26" width="1.1" height="2.64" fill="#231f20"/>
<rect x="185.73" y="362.66" width="2.5" height="1.2" fill="#231f20"/>
<circle cx="186.98" cy="360.66" r="0.95" fill="#3a3637"/>
<rect x="197.96" y="363.45" width="8.5" height="18.25" fill="#51235f" stroke="#461856" stroke-width="0.6"/>
<rect x="201.66" y="360.33" width="1.1" height="2.82" fill="#231f20"/>
<rect x="200.96" y="359.73" width="2.5" height="1.2" fill="#231f20"/>
<circle cx="202.21" cy="357.73" r="0.95" fill="#3a3637"/>
<rect x="213.19" y="357.22" width="8.5" height="24.48" fill="#51235f" stroke="#461856" stroke-width="0.6"/>
<rect x="216.89" y="348.23" width="1.1" height="8.69" fill="#231f20"/>
<rect x="216.19" y="347.63" width="2.5" height="1.2" fill="#231f20"/>
<circle cx="217.44" cy="345.63" r="0.95" fill="#3a3637"/>
<rect x="228.42" y="338.55" width="8.5" height="43.15" fill="#51235f" stroke="#461856" stroke-width="0.6"/>
<rect x="232.12" y="323.1" width="1.1" height="15.15" fill="#231f20"/>
<rect x="231.42" y="322.5" width="2.5" height="1.2" fill="#231f20"/>
<circle cx="232.67" cy="320.5" r="0.95" fill="#3a3637"/>
<rect x="243.65" y="317.41" width="8.5" height="64.29" fill="#51235f" stroke="#461856" stroke-width="0.6"/>
<rect x="247.35" y="299.85" width="1.1" height="17.26" fill="#231f20"/>
<rect x="246.65" y="299.25" width="2.5" height="1.2" fill="#231f20"/>
<circle cx="247.9" cy="297.25" r="0.95" fill="#3a3637"/>
<rect x="163.65" y="296.4" width="1.3" height="85.8" fill="#231f20"/>
<rect x="164.3" y="381.2" width="94" height="1" fill="#231f20"/>
<rect x="163.8" y="381.7" width="1" height="2.9" fill="#231f20"/>
<rect x="179" y="381.7" width="1" height="2.9" fill="#231f20"/>
<rect x="194.2" y="381.7" width="1" height="2.9" fill="#231f20"/>
<rect x="209.4" y="381.7" width="1" height="2.9" fill="#231f20"/>
<rect x="224.6" y="381.7" width="1" height="2.9" fill="#231f20"/>
<rect x="239.8" y="381.7" width="1" height="2.9" fill="#231f20"/>
<rect x="255" y="381.7" width="1" height="2.9" fill="#231f20"/>
<rect x="161.7" y="381.2" width="2.6" height="1" fill="#231f20"/>
<text x="154.41" y="383.97" class="tk" textLength="4.07" lengthAdjust="spacingAndGlyphs">0</text>
<rect x="161.7" y="369.46" width="2.6" height="1" fill="#231f20"/>
<text x="148.24" y="372.23" class="tk" textLength="10.21" lengthAdjust="spacingAndGlyphs">100</text>
<rect x="161.7" y="357.71" width="2.6" height="1" fill="#231f20"/>
<text x="148.09" y="360.48" class="tk" textLength="10.36" lengthAdjust="spacingAndGlyphs">200</text>
<rect x="161.7" y="345.97" width="2.6" height="1" fill="#231f20"/>
<text x="148.17" y="348.74" class="tk" textLength="10.28" lengthAdjust="spacingAndGlyphs">300</text>
<rect x="161.7" y="334.23" width="2.6" height="1" fill="#231f20"/>
<text x="148.26" y="337" class="tk" textLength="10.18" lengthAdjust="spacingAndGlyphs">400</text>
<rect x="161.7" y="322.49" width="2.6" height="1" fill="#231f20"/>
<text x="148.15" y="325.25" class="tk" textLength="10.29" lengthAdjust="spacingAndGlyphs">500</text>
<rect x="161.7" y="310.74" width="2.6" height="1" fill="#231f20"/>
<text x="148.08" y="313.51" class="tk" textLength="10.36" lengthAdjust="spacingAndGlyphs">600</text>
<rect x="161.7" y="299" width="2.6" height="1" fill="#231f20"/>
<text x="148.08" y="301.77" class="tk" textLength="10.36" lengthAdjust="spacingAndGlyphs">700</text>
<text class="yl" transform="translate(142.1,382.48) rotate(-90)" textLength="87.05" lengthAdjust="spacingAndGlyphs">Staining index [% of Co]</text>
<text x="167.99" y="393.7" class="xl" textLength="7.87" lengthAdjust="spacingAndGlyphs">Co</text>
<text x="182.78" y="393.7" class="xl" textLength="7.9" lengthAdjust="spacingAndGlyphs">0.1</text>
<text x="197.86" y="393.7" class="xl" textLength="8.5" lengthAdjust="spacingAndGlyphs">0.5</text>
<text x="215.79" y="393.7" class="xl" textLength="2.65" lengthAdjust="spacingAndGlyphs">1</text>
<text x="228.41" y="393.7" class="xl" textLength="8.14" lengthAdjust="spacingAndGlyphs">2.5</text>
<text x="245.94" y="393.7" class="xl" textLength="3.64" lengthAdjust="spacingAndGlyphs">5</text>
<path d="M179.7 391.5V395.95H255.7V391.5" fill="none" stroke="#231f20" stroke-width="1"/>
<text x="195.89" y="404.9" class="tr" textLength="43.95" lengthAdjust="spacingAndGlyphs">Azacitidine [µM]</text>
<text x="195.35" y="291.1" class="ti" textLength="31.75" lengthAdjust="spacingAndGlyphs">HMC-1.2</text>
<rect x="294.6" y="368.44" width="8.5" height="13.26" fill="#c4c2c8" stroke="#b8b6bc" stroke-width="0.6"/>
<rect x="297.55" y="366.64" width="2.6" height="2" fill="#3a3637"/>
<rect x="309.83" y="364.4" width="8.5" height="17.3" fill="#51235f" stroke="#461856" stroke-width="0.6"/>
<rect x="313.53" y="359.09" width="1.1" height="5" fill="#231f20"/>
<rect x="312.83" y="358.49" width="2.5" height="1.2" fill="#231f20"/>
<rect x="325.06" y="365.15" width="8.5" height="16.55" fill="#51235f" stroke="#461856" stroke-width="0.6"/>
<rect x="328.76" y="361.7" width="1.1" height="3.15" fill="#231f20"/>
<rect x="328.06" y="361.1" width="2.5" height="1.2" fill="#231f20"/>
<rect x="340.29" y="358.02" width="8.5" height="23.68" fill="#51235f" stroke="#461856" stroke-width="0.6"/>
<rect x="343.99" y="352.52" width="1.1" height="5.21" fill="#231f20"/>
<rect x="343.29" y="351.92" width="2.5" height="1.2" fill="#231f20"/>
<circle cx="344.54" cy="349.92" r="0.95" fill="#3a3637"/>
<rect x="355.52" y="341.45" width="8.5" height="40.25" fill="#51235f" stroke="#461856" stroke-width="0.6"/>
<rect x="359.22" y="332.65" width="1.1" height="8.49" fill="#231f20"/>
<rect x="358.52" y="332.05" width="2.5" height="1.2" fill="#231f20"/>
<circle cx="359.77" cy="330.05" r="0.95" fill="#3a3637"/>
<rect x="370.75" y="319.6" width="8.5" height="62.1" fill="#51235f" stroke="#461856" stroke-width="0.6"/>
<rect x="374.45" y="302.38" width="1.1" height="16.92" fill="#231f20"/>
<rect x="373.75" y="301.78" width="2.5" height="1.2" fill="#231f20"/>
<circle cx="375" cy="299.78" r="0.95" fill="#3a3637"/>
<rect x="290.75" y="296.4" width="1.3" height="85.8" fill="#231f20"/>
<rect x="291.4" y="381.2" width="94" height="1" fill="#231f20"/>
<rect x="290.9" y="381.7" width="1" height="2.9" fill="#231f20"/>
<rect x="306.1" y="381.7" width="1" height="2.9" fill="#231f20"/>
<rect x="321.3" y="381.7" width="1" height="2.9" fill="#231f20"/>
<rect x="336.5" y="381.7" width="1" height="2.9" fill="#231f20"/>
<rect x="351.7" y="381.7" width="1" height="2.9" fill="#231f20"/>
<rect x="366.9" y="381.7" width="1" height="2.9" fill="#231f20"/>
<rect x="382.1" y="381.7" width="1" height="2.9" fill="#231f20"/>
<rect x="288.8" y="381.2" width="2.6" height="1" fill="#231f20"/>
<text x="281.51" y="383.97" class="tk" textLength="4.07" lengthAdjust="spacingAndGlyphs">0</text>
<rect x="288.8" y="367.5" width="2.6" height="1" fill="#231f20"/>
<text x="275.34" y="370.27" class="tk" textLength="10.21" lengthAdjust="spacingAndGlyphs">100</text>
<rect x="288.8" y="353.8" width="2.6" height="1" fill="#231f20"/>
<text x="275.19" y="356.57" class="tk" textLength="10.36" lengthAdjust="spacingAndGlyphs">200</text>
<rect x="288.8" y="340.1" width="2.6" height="1" fill="#231f20"/>
<text x="275.27" y="342.87" class="tk" textLength="10.28" lengthAdjust="spacingAndGlyphs">300</text>
<rect x="288.8" y="326.4" width="2.6" height="1" fill="#231f20"/>
<text x="275.36" y="329.17" class="tk" textLength="10.18" lengthAdjust="spacingAndGlyphs">400</text>
<rect x="288.8" y="312.7" width="2.6" height="1" fill="#231f20"/>
<text x="275.25" y="315.47" class="tk" textLength="10.29" lengthAdjust="spacingAndGlyphs">500</text>
<rect x="288.8" y="299" width="2.6" height="1" fill="#231f20"/>
<text x="275.18" y="301.77" class="tk" textLength="10.36" lengthAdjust="spacingAndGlyphs">600</text>
<text class="yl" transform="translate(269.2,382.48) rotate(-90)" textLength="87.05" lengthAdjust="spacingAndGlyphs">Staining index [% of Co]</text>
<text x="295.09" y="393.7" class="xl" textLength="7.87" lengthAdjust="spacingAndGlyphs">Co</text>
<text x="309.88" y="393.7" class="xl" textLength="7.9" lengthAdjust="spacingAndGlyphs">0.1</text>
<text x="324.96" y="393.7" class="xl" textLength="8.5" lengthAdjust="spacingAndGlyphs">0.5</text>
<text x="342.89" y="393.7" class="xl" textLength="2.65" lengthAdjust="spacingAndGlyphs">1</text>
<text x="355.51" y="393.7" class="xl" textLength="8.14" lengthAdjust="spacingAndGlyphs">2.5</text>
<text x="373.04" y="393.7" class="xl" textLength="3.64" lengthAdjust="spacingAndGlyphs">5</text>
<path d="M306.8 391.5V395.95H382.8V391.5" fill="none" stroke="#231f20" stroke-width="1"/>
<text x="322.99" y="404.9" class="tr" textLength="43.95" lengthAdjust="spacingAndGlyphs">Azacitidine [µM]</text>
<text x="318.4" y="291.1" class="ti" textLength="20.71" lengthAdjust="spacingAndGlyphs">ROSA</text>
<text x="338.96" y="287.6" class="su" textLength="18.27" lengthAdjust="spacingAndGlyphs">KIT WT</text>
<rect x="421.7" y="368.44" width="8.5" height="13.26" fill="#c4c2c8" stroke="#b8b6bc" stroke-width="0.6"/>
<rect x="424.65" y="366.64" width="2.6" height="2" fill="#3a3637"/>
<rect x="436.93" y="363.23" width="8.5" height="18.47" fill="#51235f" stroke="#461856" stroke-width="0.6"/>
<rect x="440.63" y="356.35" width="1.1" height="6.58" fill="#231f20"/>
<rect x="439.93" y="355.75" width="2.5" height="1.2" fill="#231f20"/>
<rect x="452.16" y="363.23" width="8.5" height="18.47" fill="#51235f" stroke="#461856" stroke-width="0.6"/>
<rect x="455.86" y="359.51" width="1.1" height="3.43" fill="#231f20"/>
<rect x="455.16" y="358.91" width="2.5" height="1.2" fill="#231f20"/>
<circle cx="456.41" cy="356.91" r="0.95" fill="#3a3637"/>
<rect x="467.39" y="352" width="8.5" height="29.7" fill="#51235f" stroke="#461856" stroke-width="0.6"/>
<rect x="471.09" y="345.6" width="1.1" height="6.1" fill="#231f20"/>
<rect x="470.39" y="345" width="2.5" height="1.2" fill="#231f20"/>
<circle cx="471.64" cy="343" r="0.95" fill="#3a3637"/>
<rect x="482.62" y="341.58" width="8.5" height="40.12" fill="#51235f" stroke="#461856" stroke-width="0.6"/>
<rect x="486.32" y="336.08" width="1.1" height="5.21" fill="#231f20"/>
<rect x="485.62" y="335.48" width="2.5" height="1.2" fill="#231f20"/>
<circle cx="486.87" cy="333.48" r="0.95" fill="#3a3637"/>
<rect x="497.85" y="326.93" width="8.5" height="54.77" fill="#51235f" stroke="#461856" stroke-width="0.6"/>
<rect x="501.55" y="309.36" width="1.1" height="17.26" fill="#231f20"/>
<rect x="500.85" y="308.76" width="2.5" height="1.2" fill="#231f20"/>
<circle cx="502.1" cy="306.76" r="0.95" fill="#3a3637"/>
<rect x="417.85" y="296.4" width="1.3" height="85.8" fill="#231f20"/>
<rect x="418.5" y="381.2" width="94" height="1" fill="#231f20"/>
<rect x="418" y="381.7" width="1" height="2.9" fill="#231f20"/>
<rect x="433.2" y="381.7" width="1" height="2.9" fill="#231f20"/>
<rect x="448.4" y="381.7" width="1" height="2.9" fill="#231f20"/>
<rect x="463.6" y="381.7" width="1" height="2.9" fill="#231f20"/>
<rect x="478.8" y="381.7" width="1" height="2.9" fill="#231f20"/>
<rect x="494" y="381.7" width="1" height="2.9" fill="#231f20"/>
<rect x="509.2" y="381.7" width="1" height="2.9" fill="#231f20"/>
<rect x="415.9" y="381.2" width="2.6" height="1" fill="#231f20"/>
<text x="408.61" y="383.97" class="tk" textLength="4.07" lengthAdjust="spacingAndGlyphs">0</text>
<rect x="415.9" y="367.5" width="2.6" height="1" fill="#231f20"/>
<text x="402.44" y="370.27" class="tk" textLength="10.21" lengthAdjust="spacingAndGlyphs">100</text>
<rect x="415.9" y="353.8" width="2.6" height="1" fill="#231f20"/>
<text x="402.29" y="356.57" class="tk" textLength="10.36" lengthAdjust="spacingAndGlyphs">200</text>
<rect x="415.9" y="340.1" width="2.6" height="1" fill="#231f20"/>
<text x="402.37" y="342.87" class="tk" textLength="10.28" lengthAdjust="spacingAndGlyphs">300</text>
<rect x="415.9" y="326.4" width="2.6" height="1" fill="#231f20"/>
<text x="402.46" y="329.17" class="tk" textLength="10.18" lengthAdjust="spacingAndGlyphs">400</text>
<rect x="415.9" y="312.7" width="2.6" height="1" fill="#231f20"/>
<text x="402.35" y="315.47" class="tk" textLength="10.29" lengthAdjust="spacingAndGlyphs">500</text>
<rect x="415.9" y="299" width="2.6" height="1" fill="#231f20"/>
<text x="402.28" y="301.77" class="tk" textLength="10.36" lengthAdjust="spacingAndGlyphs">600</text>
<text class="yl" transform="translate(396.3,382.48) rotate(-90)" textLength="87.05" lengthAdjust="spacingAndGlyphs">Staining index [% of Co]</text>
<text x="422.19" y="393.7" class="xl" textLength="7.87" lengthAdjust="spacingAndGlyphs">Co</text>
<text x="436.98" y="393.7" class="xl" textLength="7.9" lengthAdjust="spacingAndGlyphs">0.1</text>
<text x="452.06" y="393.7" class="xl" textLength="8.5" lengthAdjust="spacingAndGlyphs">0.5</text>
<text x="469.99" y="393.7" class="xl" textLength="2.65" lengthAdjust="spacingAndGlyphs">1</text>
<text x="482.61" y="393.7" class="xl" textLength="8.14" lengthAdjust="spacingAndGlyphs">2.5</text>
<text x="500.14" y="393.7" class="xl" textLength="3.64" lengthAdjust="spacingAndGlyphs">5</text>
<path d="M433.9 391.5V395.95H509.9V391.5" fill="none" stroke="#231f20" stroke-width="1"/>
<text x="450.09" y="404.9" class="tr" textLength="43.95" lengthAdjust="spacingAndGlyphs">Azacitidine [µM]</text>
<text x="441.12" y="291.1" class="ti" textLength="20.2" lengthAdjust="spacingAndGlyphs">ROSA</text>
<text x="461.33" y="287.6" class="su" textLength="27.9" lengthAdjust="spacingAndGlyphs">KIT D816V</text>
<rect x="40.2" y="495.73" width="8.5" height="17.97" fill="#c4c2c8" stroke="#b8b6bc" stroke-width="0.6"/>
<rect x="43.15" y="493.93" width="2.6" height="2" fill="#3a3637"/>
<rect x="55.43" y="492.99" width="8.5" height="20.71" fill="#51235f" stroke="#461856" stroke-width="0.6"/>
<rect x="59.13" y="490.32" width="1.1" height="2.37" fill="#231f20"/>
<rect x="58.43" y="489.72" width="2.5" height="1.2" fill="#231f20"/>
<circle cx="59.68" cy="487.72" r="0.95" fill="#3a3637"/>
<rect x="70.66" y="486.05" width="8.5" height="27.65" fill="#51235f" stroke="#461856" stroke-width="0.6"/>
<rect x="74.36" y="484.02" width="1.1" height="1.74" fill="#231f20"/>
<rect x="73.66" y="483.42" width="2.5" height="1.2" fill="#231f20"/>
<circle cx="74.91" cy="481.42" r="0.95" fill="#3a3637"/>
<rect x="85.89" y="475.71" width="8.5" height="37.99" fill="#51235f" stroke="#461856" stroke-width="0.6"/>
<rect x="89.59" y="466.94" width="1.1" height="8.48" fill="#231f20"/>
<rect x="88.89" y="466.34" width="2.5" height="1.2" fill="#231f20"/>
<circle cx="90.14" cy="464.34" r="0.95" fill="#3a3637"/>
<rect x="101.12" y="459.38" width="8.5" height="54.32" fill="#51235f" stroke="#461856" stroke-width="0.6"/>
<rect x="104.82" y="456.42" width="1.1" height="2.67" fill="#231f20"/>
<rect x="104.12" y="455.82" width="2.5" height="1.2" fill="#231f20"/>
<circle cx="105.37" cy="453.82" r="0.95" fill="#3a3637"/>
<rect x="116.35" y="447.14" width="8.5" height="66.56" fill="#51235f" stroke="#461856" stroke-width="0.6"/>
<rect x="120.05" y="437.35" width="1.1" height="9.5" fill="#231f20"/>
<rect x="119.35" y="436.75" width="2.5" height="1.2" fill="#231f20"/>
<circle cx="120.6" cy="434.75" r="0.95" fill="#3a3637"/>
<rect x="36.35" y="428.4" width="1.3" height="85.8" fill="#231f20"/>
<rect x="37" y="513.2" width="94" height="1" fill="#231f20"/>
<rect x="36.5" y="513.7" width="1" height="2.9" fill="#231f20"/>
<rect x="51.7" y="513.7" width="1" height="2.9" fill="#231f20"/>
<rect x="66.9" y="513.7" width="1" height="2.9" fill="#231f20"/>
<rect x="82.1" y="513.7" width="1" height="2.9" fill="#231f20"/>
<rect x="97.3" y="513.7" width="1" height="2.9" fill="#231f20"/>
<rect x="112.5" y="513.7" width="1" height="2.9" fill="#231f20"/>
<rect x="127.7" y="513.7" width="1" height="2.9" fill="#231f20"/>
<rect x="34.4" y="513.2" width="2.6" height="1" fill="#231f20"/>
<text x="27.11" y="515.97" class="tk" textLength="4.07" lengthAdjust="spacingAndGlyphs">0</text>
<rect x="34.4" y="504.07" width="2.6" height="1" fill="#231f20"/>
<text x="24.04" y="506.84" class="tk" textLength="7.11" lengthAdjust="spacingAndGlyphs">50</text>
<rect x="34.4" y="494.93" width="2.6" height="1" fill="#231f20"/>
<text x="20.94" y="497.7" class="tk" textLength="10.21" lengthAdjust="spacingAndGlyphs">100</text>
<rect x="34.4" y="485.8" width="2.6" height="1" fill="#231f20"/>
<text x="20.62" y="488.57" class="tk" textLength="10.53" lengthAdjust="spacingAndGlyphs">150</text>
<rect x="34.4" y="476.67" width="2.6" height="1" fill="#231f20"/>
<text x="20.79" y="479.44" class="tk" textLength="10.36" lengthAdjust="spacingAndGlyphs">200</text>
<rect x="34.4" y="467.53" width="2.6" height="1" fill="#231f20"/>
<text x="20.79" y="470.3" class="tk" textLength="10.36" lengthAdjust="spacingAndGlyphs">250</text>
<rect x="34.4" y="458.4" width="2.6" height="1" fill="#231f20"/>
<text x="20.87" y="461.17" class="tk" textLength="10.28" lengthAdjust="spacingAndGlyphs">300</text>
<rect x="34.4" y="449.27" width="2.6" height="1" fill="#231f20"/>
<text x="20.87" y="452.04" class="tk" textLength="10.28" lengthAdjust="spacingAndGlyphs">350</text>
<rect x="34.4" y="440.13" width="2.6" height="1" fill="#231f20"/>
<text x="20.96" y="442.9" class="tk" textLength="10.18" lengthAdjust="spacingAndGlyphs">400</text>
<rect x="34.4" y="431" width="2.6" height="1" fill="#231f20"/>
<text x="20.96" y="433.77" class="tk" textLength="10.18" lengthAdjust="spacingAndGlyphs">450</text>
<text class="yl" transform="translate(14.8,514.48) rotate(-90)" textLength="87.05" lengthAdjust="spacingAndGlyphs">Staining index [% of Co]</text>
<text x="40.69" y="525.7" class="xl" textLength="7.87" lengthAdjust="spacingAndGlyphs">Co</text>
<text x="55.48" y="525.7" class="xl" textLength="7.9" lengthAdjust="spacingAndGlyphs">0.1</text>
<text x="70.56" y="525.7" class="xl" textLength="8.5" lengthAdjust="spacingAndGlyphs">0.5</text>
<text x="88.49" y="525.7" class="xl" textLength="2.65" lengthAdjust="spacingAndGlyphs">1</text>
<text x="101.11" y="525.7" class="xl" textLength="8.14" lengthAdjust="spacingAndGlyphs">2.5</text>
<text x="118.64" y="525.7" class="xl" textLength="3.64" lengthAdjust="spacingAndGlyphs">5</text>
<path d="M52.4 523.5V527.95H128.4V523.5" fill="none" stroke="#231f20" stroke-width="1"/>
<text x="68.59" y="536.9" class="tr" textLength="43.95" lengthAdjust="spacingAndGlyphs">Azacitidine [µM]</text>
<text x="66.28" y="423.4" class="ti" textLength="34.29" lengthAdjust="spacingAndGlyphs">MCPV-1.1</text>
<rect x="167.5" y="497.81" width="8.5" height="15.89" fill="#c4c2c8" stroke="#b8b6bc" stroke-width="0.6"/>
<rect x="170.45" y="496.01" width="2.6" height="2" fill="#3a3637"/>
<rect x="182.73" y="491.4" width="8.5" height="22.31" fill="#51235f" stroke="#461856" stroke-width="0.6"/>
<rect x="186.43" y="485.42" width="1.1" height="5.67" fill="#231f20"/>
<rect x="185.73" y="484.82" width="2.5" height="1.2" fill="#231f20"/>
<rect x="197.96" y="490.41" width="8.5" height="23.29" fill="#51235f" stroke="#461856" stroke-width="0.6"/>
<rect x="201.66" y="486.8" width="1.1" height="3.3" fill="#231f20"/>
<rect x="200.96" y="486.2" width="2.5" height="1.2" fill="#231f20"/>
<circle cx="202.21" cy="484.2" r="0.95" fill="#3a3637"/>
<rect x="213.19" y="486.59" width="8.5" height="27.11" fill="#51235f" stroke="#461856" stroke-width="0.6"/>
<rect x="216.89" y="481.64" width="1.1" height="4.65" fill="#231f20"/>
<rect x="216.19" y="481.04" width="2.5" height="1.2" fill="#231f20"/>
<circle cx="217.44" cy="479.04" r="0.95" fill="#3a3637"/>
<rect x="228.42" y="475.04" width="8.5" height="38.66" fill="#51235f" stroke="#461856" stroke-width="0.6"/>
<rect x="232.12" y="466.35" width="1.1" height="8.38" fill="#231f20"/>
<rect x="231.42" y="465.75" width="2.5" height="1.2" fill="#231f20"/>
<circle cx="232.67" cy="463.75" r="0.95" fill="#3a3637"/>
<rect x="243.65" y="456.62" width="8.5" height="57.08" fill="#51235f" stroke="#461856" stroke-width="0.6"/>
<rect x="247.35" y="437.5" width="1.1" height="18.82" fill="#231f20"/>
<rect x="246.65" y="436.9" width="2.5" height="1.2" fill="#231f20"/>
<circle cx="247.9" cy="434.9" r="0.95" fill="#3a3637"/>
<rect x="163.65" y="428.4" width="1.3" height="85.8" fill="#231f20"/>
<rect x="164.3" y="513.2" width="94" height="1" fill="#231f20"/>
<rect x="163.8" y="513.7" width="1" height="2.9" fill="#231f20"/>
<rect x="179" y="513.7" width="1" height="2.9" fill="#231f20"/>
<rect x="194.2" y="513.7" width="1" height="2.9" fill="#231f20"/>
<rect x="209.4" y="513.7" width="1" height="2.9" fill="#231f20"/>
<rect x="224.6" y="513.7" width="1" height="2.9" fill="#231f20"/>
<rect x="239.8" y="513.7" width="1" height="2.9" fill="#231f20"/>
<rect x="255" y="513.7" width="1" height="2.9" fill="#231f20"/>
<rect x="161.7" y="513.2" width="2.6" height="1" fill="#231f20"/>
<text x="154.41" y="515.97" class="tk" textLength="4.07" lengthAdjust="spacingAndGlyphs">0</text>
<rect x="161.7" y="504.98" width="2.6" height="1" fill="#231f20"/>
<text x="151.34" y="507.75" class="tk" textLength="7.11" lengthAdjust="spacingAndGlyphs">50</text>
<rect x="161.7" y="496.76" width="2.6" height="1" fill="#231f20"/>
<text x="148.24" y="499.53" class="tk" textLength="10.21" lengthAdjust="spacingAndGlyphs">100</text>
<rect x="161.7" y="488.54" width="2.6" height="1" fill="#231f20"/>
<text x="147.92" y="491.31" class="tk" textLength="10.53" lengthAdjust="spacingAndGlyphs">150</text>
<rect x="161.7" y="480.32" width="2.6" height="1" fill="#231f20"/>
<text x="148.09" y="483.09" class="tk" textLength="10.36" lengthAdjust="spacingAndGlyphs">200</text>
<rect x="161.7" y="472.1" width="2.6" height="1" fill="#231f20"/>
<text x="148.09" y="474.87" class="tk" textLength="10.36" lengthAdjust="spacingAndGlyphs">250</text>
<rect x="161.7" y="463.88" width="2.6" height="1" fill="#231f20"/>
<text x="148.17" y="466.65" class="tk" textLength="10.28" lengthAdjust="spacingAndGlyphs">300</text>
<rect x="161.7" y="455.66" width="2.6" height="1" fill="#231f20"/>
<text x="148.17" y="458.43" class="tk" textLength="10.28" lengthAdjust="spacingAndGlyphs">350</text>
<rect x="161.7" y="447.44" width="2.6" height="1" fill="#231f20"/>
<text x="148.26" y="450.21" class="tk" textLength="10.18" lengthAdjust="spacingAndGlyphs">400</text>
<rect x="161.7" y="439.22" width="2.6" height="1" fill="#231f20"/>
<text x="148.26" y="441.99" class="tk" textLength="10.18" lengthAdjust="spacingAndGlyphs">450</text>
<rect x="161.7" y="431" width="2.6" height="1" fill="#231f20"/>
<text x="148.15" y="433.77" class="tk" textLength="10.29" lengthAdjust="spacingAndGlyphs">500</text>
<text class="yl" transform="translate(142.1,514.48) rotate(-90)" textLength="87.05" lengthAdjust="spacingAndGlyphs">Staining index [% of Co]</text>
<text x="167.99" y="525.7" class="xl" textLength="7.87" lengthAdjust="spacingAndGlyphs">Co</text>
<text x="182.78" y="525.7" class="xl" textLength="7.9" lengthAdjust="spacingAndGlyphs">0.1</text>
<text x="197.86" y="525.7" class="xl" textLength="8.5" lengthAdjust="spacingAndGlyphs">0.5</text>
<text x="215.79" y="525.7" class="xl" textLength="2.65" lengthAdjust="spacingAndGlyphs">1</text>
<text x="228.41" y="525.7" class="xl" textLength="8.14" lengthAdjust="spacingAndGlyphs">2.5</text>
<text x="245.94" y="525.7" class="xl" textLength="3.64" lengthAdjust="spacingAndGlyphs">5</text>
<path d="M179.7 523.5V527.95H255.7V523.5" fill="none" stroke="#231f20" stroke-width="1"/>
<text x="195.89" y="536.9" class="tr" textLength="43.95" lengthAdjust="spacingAndGlyphs">Azacitidine [µM]</text>
<text x="193.36" y="423.4" class="ti" textLength="35.53" lengthAdjust="spacingAndGlyphs">MCPV-1.2</text>
<rect x="294.6" y="495.73" width="8.5" height="17.97" fill="#c4c2c8" stroke="#b8b6bc" stroke-width="0.6"/>
<rect x="297.55" y="493.93" width="2.6" height="2" fill="#3a3637"/>
<rect x="309.83" y="483.13" width="8.5" height="30.57" fill="#51235f" stroke="#461856" stroke-width="0.6"/>
<rect x="313.53" y="474.5" width="1.1" height="8.33" fill="#231f20"/>
<rect x="312.83" y="473.9" width="2.5" height="1.2" fill="#231f20"/>
<circle cx="314.08" cy="471.9" r="0.95" fill="#3a3637"/>
<rect x="325.06" y="480.5" width="8.5" height="33.2" fill="#51235f" stroke="#461856" stroke-width="0.6"/>
<rect x="328.76" y="472.42" width="1.1" height="7.78" fill="#231f20"/>
<rect x="328.06" y="471.82" width="2.5" height="1.2" fill="#231f20"/>
<circle cx="329.31" cy="469.82" r="0.95" fill="#3a3637"/>
<rect x="340.29" y="466.87" width="8.5" height="46.83" fill="#51235f" stroke="#461856" stroke-width="0.6"/>
<rect x="343.99" y="445.57" width="1.1" height="21.01" fill="#231f20"/>
<rect x="343.29" y="444.97" width="2.5" height="1.2" fill="#231f20"/>
<circle cx="344.54" cy="442.97" r="0.95" fill="#3a3637"/>
<rect x="355.52" y="461.57" width="8.5" height="52.13" fill="#51235f" stroke="#461856" stroke-width="0.6"/>
<rect x="359.22" y="446.48" width="1.1" height="14.8" fill="#231f20"/>
<rect x="358.52" y="445.88" width="2.5" height="1.2" fill="#231f20"/>
<circle cx="359.77" cy="443.88" r="0.95" fill="#3a3637"/>
<rect x="370.75" y="449.21" width="8.5" height="64.49" fill="#51235f" stroke="#461856" stroke-width="0.6"/>
<rect x="374.45" y="433.22" width="1.1" height="15.69" fill="#231f20"/>
<rect x="373.75" y="432.62" width="2.5" height="1.2" fill="#231f20"/>
<circle cx="375" cy="430.62" r="0.95" fill="#3a3637"/>
<rect x="290.75" y="428.4" width="1.3" height="85.8" fill="#231f20"/>
<rect x="291.4" y="513.2" width="94" height="1" fill="#231f20"/>
<rect x="290.9" y="513.7" width="1" height="2.9" fill="#231f20"/>
<rect x="306.1" y="513.7" width="1" height="2.9" fill="#231f20"/>
<rect x="321.3" y="513.7" width="1" height="2.9" fill="#231f20"/>
<rect x="336.5" y="513.7" width="1" height="2.9" fill="#231f20"/>
<rect x="351.7" y="513.7" width="1" height="2.9" fill="#231f20"/>
<rect x="366.9" y="513.7" width="1" height="2.9" fill="#231f20"/>
<rect x="382.1" y="513.7" width="1" height="2.9" fill="#231f20"/>
<rect x="288.8" y="513.2" width="2.6" height="1" fill="#231f20"/>
<text x="281.51" y="515.97" class="tk" textLength="4.07" lengthAdjust="spacingAndGlyphs">0</text>
<rect x="288.8" y="504.07" width="2.6" height="1" fill="#231f20"/>
<text x="278.44" y="506.84" class="tk" textLength="7.11" lengthAdjust="spacingAndGlyphs">50</text>
<rect x="288.8" y="494.93" width="2.6" height="1" fill="#231f20"/>
<text x="275.34" y="497.7" class="tk" textLength="10.21" lengthAdjust="spacingAndGlyphs">100</text>
<rect x="288.8" y="485.8" width="2.6" height="1" fill="#231f20"/>
<text x="275.02" y="488.57" class="tk" textLength="10.53" lengthAdjust="spacingAndGlyphs">150</text>
<rect x="288.8" y="476.67" width="2.6" height="1" fill="#231f20"/>
<text x="275.19" y="479.44" class="tk" textLength="10.36" lengthAdjust="spacingAndGlyphs">200</text>
<rect x="288.8" y="467.53" width="2.6" height="1" fill="#231f20"/>
<text x="275.19" y="470.3" class="tk" textLength="10.36" lengthAdjust="spacingAndGlyphs">250</text>
<rect x="288.8" y="458.4" width="2.6" height="1" fill="#231f20"/>
<text x="275.27" y="461.17" class="tk" textLength="10.28" lengthAdjust="spacingAndGlyphs">300</text>
<rect x="288.8" y="449.27" width="2.6" height="1" fill="#231f20"/>
<text x="275.27" y="452.04" class="tk" textLength="10.28" lengthAdjust="spacingAndGlyphs">350</text>
<rect x="288.8" y="440.13" width="2.6" height="1" fill="#231f20"/>
<text x="275.36" y="442.9" class="tk" textLength="10.18" lengthAdjust="spacingAndGlyphs">400</text>
<rect x="288.8" y="431" width="2.6" height="1" fill="#231f20"/>
<text x="275.36" y="433.77" class="tk" textLength="10.18" lengthAdjust="spacingAndGlyphs">450</text>
<text class="yl" transform="translate(269.2,514.48) rotate(-90)" textLength="87.05" lengthAdjust="spacingAndGlyphs">Staining index [% of Co]</text>
<text x="295.09" y="525.7" class="xl" textLength="7.87" lengthAdjust="spacingAndGlyphs">Co</text>
<text x="309.88" y="525.7" class="xl" textLength="7.9" lengthAdjust="spacingAndGlyphs">0.1</text>
<text x="324.96" y="525.7" class="xl" textLength="8.5" lengthAdjust="spacingAndGlyphs">0.5</text>
<text x="342.89" y="525.7" class="xl" textLength="2.65" lengthAdjust="spacingAndGlyphs">1</text>
<text x="355.51" y="525.7" class="xl" textLength="8.14" lengthAdjust="spacingAndGlyphs">2.5</text>
<text x="373.04" y="525.7" class="xl" textLength="3.64" lengthAdjust="spacingAndGlyphs">5</text>
<path d="M306.8 523.5V527.95H382.8V523.5" fill="none" stroke="#231f20" stroke-width="1"/>
<text x="322.99" y="536.9" class="tr" textLength="43.95" lengthAdjust="spacingAndGlyphs">Azacitidine [µM]</text>
<text x="320.35" y="423.4" class="ti" textLength="35.89" lengthAdjust="spacingAndGlyphs">MCPV-1.3</text>
<rect x="421.7" y="495.73" width="8.5" height="17.97" fill="#c4c2c8" stroke="#b8b6bc" stroke-width="0.6"/>
<rect x="424.65" y="493.93" width="2.6" height="2" fill="#3a3637"/>
<rect x="436.93" y="495.19" width="8.5" height="18.51" fill="#51235f" stroke="#461856" stroke-width="0.6"/>
<rect x="440.63" y="493.61" width="1.1" height="1.28" fill="#231f20"/>
<rect x="439.93" y="493.01" width="2.5" height="1.2" fill="#231f20"/>
<rect x="452.16" y="487.81" width="8.5" height="25.89" fill="#51235f" stroke="#461856" stroke-width="0.6"/>
<rect x="455.86" y="482.46" width="1.1" height="5.04" fill="#231f20"/>
<rect x="455.16" y="481.86" width="2.5" height="1.2" fill="#231f20"/>
<circle cx="456.41" cy="479.86" r="0.95" fill="#3a3637"/>
<rect x="467.39" y="483.49" width="8.5" height="30.21" fill="#51235f" stroke="#461856" stroke-width="0.6"/>
<rect x="471.09" y="479.72" width="1.1" height="3.47" fill="#231f20"/>
<rect x="470.39" y="479.12" width="2.5" height="1.2" fill="#231f20"/>
<circle cx="471.64" cy="477.12" r="0.95" fill="#3a3637"/>
<rect x="482.62" y="458.91" width="8.5" height="54.79" fill="#51235f" stroke="#461856" stroke-width="0.6"/>
<rect x="486.32" y="450.86" width="1.1" height="7.75" fill="#231f20"/>
<rect x="485.62" y="450.26" width="2.5" height="1.2" fill="#231f20"/>
<circle cx="486.87" cy="448.26" r="0.95" fill="#3a3637"/>
<rect x="497.85" y="445.68" width="8.5" height="68.02" fill="#51235f" stroke="#461856" stroke-width="0.6"/>
<rect x="501.55" y="433.51" width="1.1" height="11.87" fill="#231f20"/>
<rect x="500.85" y="432.91" width="2.5" height="1.2" fill="#231f20"/>
<circle cx="502.1" cy="430.91" r="0.95" fill="#3a3637"/>
<rect x="417.85" y="428.4" width="1.3" height="85.8" fill="#231f20"/>
<rect x="418.5" y="513.2" width="94" height="1" fill="#231f20"/>
<rect x="418" y="513.7" width="1" height="2.9" fill="#231f20"/>
<rect x="433.2" y="513.7" width="1" height="2.9" fill="#231f20"/>
<rect x="448.4" y="513.7" width="1" height="2.9" fill="#231f20"/>
<rect x="463.6" y="513.7" width="1" height="2.9" fill="#231f20"/>
<rect x="478.8" y="513.7" width="1" height="2.9" fill="#231f20"/>
<rect x="494" y="513.7" width="1" height="2.9" fill="#231f20"/>
<rect x="509.2" y="513.7" width="1" height="2.9" fill="#231f20"/>
<rect x="415.9" y="513.2" width="2.6" height="1" fill="#231f20"/>
<text x="408.61" y="515.97" class="tk" textLength="4.07" lengthAdjust="spacingAndGlyphs">0</text>
<rect x="415.9" y="504.07" width="2.6" height="1" fill="#231f20"/>
<text x="405.54" y="506.84" class="tk" textLength="7.11" lengthAdjust="spacingAndGlyphs">50</text>
<rect x="415.9" y="494.93" width="2.6" height="1" fill="#231f20"/>
<text x="402.44" y="497.7" class="tk" textLength="10.21" lengthAdjust="spacingAndGlyphs">100</text>
<rect x="415.9" y="485.8" width="2.6" height="1" fill="#231f20"/>
<text x="402.12" y="488.57" class="tk" textLength="10.53" lengthAdjust="spacingAndGlyphs">150</text>
<rect x="415.9" y="476.67" width="2.6" height="1" fill="#231f20"/>
<text x="402.29" y="479.44" class="tk" textLength="10.36" lengthAdjust="spacingAndGlyphs">200</text>
<rect x="415.9" y="467.53" width="2.6" height="1" fill="#231f20"/>
<text x="402.29" y="470.3" class="tk" textLength="10.36" lengthAdjust="spacingAndGlyphs">250</text>
<rect x="415.9" y="458.4" width="2.6" height="1" fill="#231f20"/>
<text x="402.37" y="461.17" class="tk" textLength="10.28" lengthAdjust="spacingAndGlyphs">300</text>
<rect x="415.9" y="449.27" width="2.6" height="1" fill="#231f20"/>
<text x="402.37" y="452.04" class="tk" textLength="10.28" lengthAdjust="spacingAndGlyphs">350</text>
<rect x="415.9" y="440.13" width="2.6" height="1" fill="#231f20"/>
<text x="402.46" y="442.9" class="tk" textLength="10.18" lengthAdjust="spacingAndGlyphs">400</text>
<rect x="415.9" y="431" width="2.6" height="1" fill="#231f20"/>
<text x="402.46" y="433.77" class="tk" textLength="10.18" lengthAdjust="spacingAndGlyphs">450</text>
<text class="yl" transform="translate(396.3,514.48) rotate(-90)" textLength="87.05" lengthAdjust="spacingAndGlyphs">Staining index [% of Co]</text>
<text x="422.19" y="525.7" class="xl" textLength="7.87" lengthAdjust="spacingAndGlyphs">Co</text>
<text x="436.98" y="525.7" class="xl" textLength="7.9" lengthAdjust="spacingAndGlyphs">0.1</text>
<text x="452.06" y="525.7" class="xl" textLength="8.5" lengthAdjust="spacingAndGlyphs">0.5</text>
<text x="469.99" y="525.7" class="xl" textLength="2.65" lengthAdjust="spacingAndGlyphs">1</text>
<text x="482.61" y="525.7" class="xl" textLength="8.14" lengthAdjust="spacingAndGlyphs">2.5</text>
<text x="500.14" y="525.7" class="xl" textLength="3.64" lengthAdjust="spacingAndGlyphs">5</text>
<path d="M433.9 523.5V527.95H509.9V523.5" fill="none" stroke="#231f20" stroke-width="1"/>
<text x="450.09" y="536.9" class="tr" textLength="43.95" lengthAdjust="spacingAndGlyphs">Azacitidine [µM]</text>
<text x="447.56" y="423.4" class="ti" textLength="35.47" lengthAdjust="spacingAndGlyphs">MCPV-1.4</text>
<text x="7.33" y="17.1" class="pl" textLength="6.94" lengthAdjust="spacingAndGlyphs">A</text>
<text x="7.07" y="290.4" class="pl" textLength="6.77" lengthAdjust="spacingAndGlyphs">B</text>
<rect x="0.6" y="0.6" width="518.6" height="544.6" fill="none" stroke="#000" stroke-width="1.3"/>
</svg>
</body></html>
